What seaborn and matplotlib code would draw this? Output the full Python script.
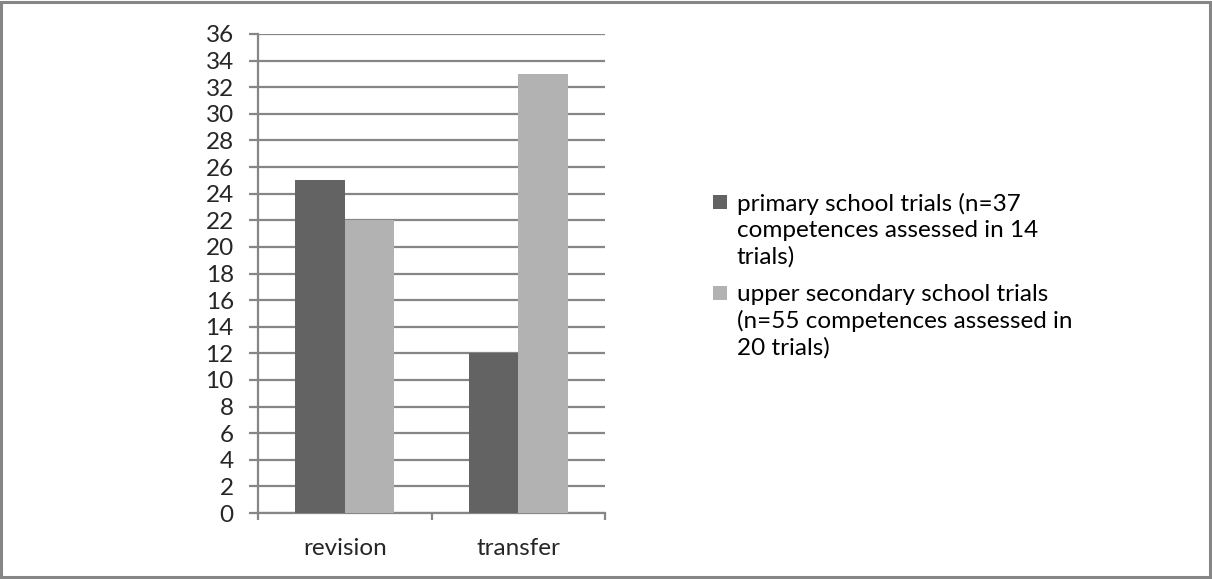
import matplotlib
matplotlib.use("Agg")
import matplotlib.pyplot as plt
import seaborn as sns
import pandas as pd
from matplotlib.patches import Rectangle

categories = ["revision", "transfer"]
series_names = [
    "primary school trials (n=37\ncompetences assessed in 14\ntrials)",
    "upper secondary school trials\n(n=55 competences assessed in\n20 trials)",
]
primary_values = [25, 12]
secondary_values = [22, 33]
y_ticks = list(range(0, 37, 2))

colors = ["#636363", "#b2b2b2"]
grid_gray = "#868686"
font_size = 17.5

df = pd.DataFrame({
    "category": categories * 2,
    "series": [series_names[0]] * 2 + [series_names[1]] * 2,
    "value": primary_values + secondary_values,
})

sns.set_style("white")
plt.rcParams["font.family"] = ["Lato", "DejaVu Sans"]

W, H = 1212, 579
fig = plt.figure(figsize=(W / 100, H / 100), dpi=100)
ax = fig.add_axes([258 / W, 1 - 513 / H, (605 - 258) / W, (513 - 34) / H])

sns.barplot(data=df, x="category", y="value", hue="series", order=categories,
            hue_order=series_names, palette=colors, width=0.57, saturation=1,
            edgecolor="none", linewidth=0, ax=ax, zorder=3, legend=False)

ax.set_xlim(-0.5, 1.5)
ax.set_ylim(0, 36)
ax.set_yticks(y_ticks)
ax.set_yticklabels([str(t) for t in y_ticks])
ax.set_xlabel("")
ax.set_ylabel("")

ax.yaxis.grid(True, color=grid_gray, linewidth=1.6, zorder=0)
ax.set_axisbelow(True)

for side in ["top", "right"]:
    ax.spines[side].set_visible(False)
for side in ["left", "bottom"]:
    ax.spines[side].set_color(grid_gray)
    ax.spines[side].set_linewidth(1.6)

ax.tick_params(axis="y", which="major", length=6.5, width=1.6, color=grid_gray,
               direction="out", labelsize=font_size, pad=11, left=True)
ax.set_xticks([-0.5, 0.5, 1.5], minor=True)
ax.tick_params(axis="x", which="minor", length=5, width=1.6, color=grid_gray,
               direction="out", bottom=True)
ax.tick_params(axis="x", which="major", length=0, labelsize=font_size, pad=18)

# legend: square key beside a wrapped label, level with its first text line
entry_tops = [193, 284]
key_size = 14
for name, color, top in zip(series_names, colors, entry_tops):
    key_top = top + 2
    fig.patches.append(Rectangle((713 / W, 1 - (key_top + key_size) / H),
                                 key_size / W, key_size / H,
                                 transform=fig.transFigure,
                                 facecolor=color, edgecolor="none"))
    fig.text(737 / W, 1 - top / H, name, ha="left", va="top",
             fontsize=font_size, linespacing=1.29, color="black")

fig.patches.append(Rectangle((1 / W, 2 / H), 1209 / W, 575 / H,
                             transform=fig.transFigure, fill=False,
                             edgecolor=grid_gray, linewidth=2.2))

fig.savefig("out.png", dpi=100)
